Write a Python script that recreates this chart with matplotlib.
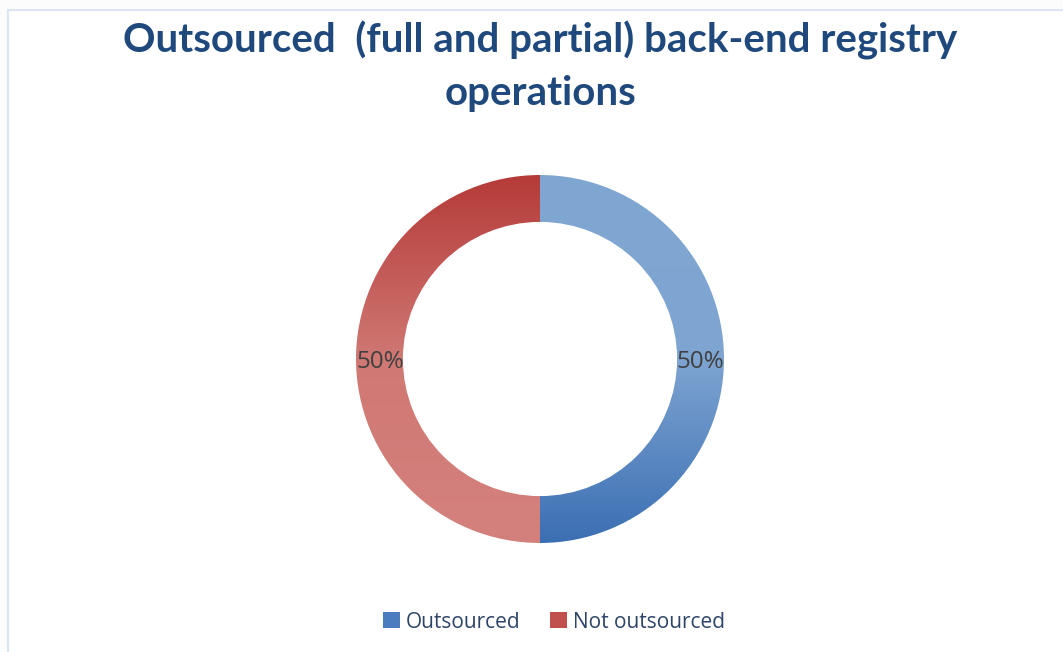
import numpy as np
import matplotlib.pyplot as plt
from matplotlib.colors import LinearSegmentedColormap
from matplotlib.patches import Patch, Rectangle

# data
labels = ["Outsourced", "Not outsourced"]
values = [50, 50]

title = "Outsourced  (full and partial) back-end registry\noperations"

# gradient stops, top -> bottom
blue_stops = ["#80A6D2", "#7EA4D1", "#3B6FB3"]
red_stops = ["#B53B38", "#D07874", "#D4817D"]
legend_colors = ["#4A7CBF", "#C0504D"]

W, H = 1063, 652
fig = plt.figure(figsize=(W / 100, H / 100), dpi=100)
fig.patch.set_facecolor("#FCFCFC")

# faint chart frame, kept behind the axes
fig.patches.append(Rectangle((8 / W, -0.01), (W - 8) / W + 0.01, (H - 10) / H + 0.01,
                             transform=fig.transFigure, facecolor="white",
                             edgecolor="#DCE6F2", linewidth=1.5, zorder=-5))

R = 184
cx, cy = 540, 652 - 359
ax = fig.add_axes([(cx - R) / W, (cy - R) / H, 2 * R / W, 2 * R / H])
ax.patch.set_alpha(0)

wedges, texts, autotexts = ax.pie(
    values, startangle=90, counterclock=False,
    wedgeprops=dict(width=0.255, linewidth=0, facecolor="none"),
    autopct="%1.0f%%", pctdistance=0.87,
    textprops=dict(color="#404040", fontsize=17.5, family="Open Sans"),
)
ax.set_xlim(-1, 1)
ax.set_ylim(-1, 1)
ax.set_aspect("equal")

grad = np.linspace(0, 1, 256).reshape(-1, 1)
for w, stops in zip(wedges, [blue_stops, red_stops]):
    cmap = LinearSegmentedColormap.from_list("g", stops)
    im = ax.imshow(grad, cmap=cmap, extent=[-1, 1, -1, 1], origin="upper",
                   aspect="auto", zorder=1)
    im.set_clip_path(w)
for t in autotexts:
    t.set_zorder(3)
    t.set_va("center_baseline")

fig.text(cx / W, 1 - 66 / H, title, ha="center", va="center",
         fontsize=29, fontweight="bold", color="#1F497D", family="Lato",
         linespacing=1.5)

handles = [Patch(facecolor=c, edgecolor="none") for c in legend_colors]
fig.legend(handles, labels, loc="center", bbox_to_anchor=(554 / W, 1 - 622 / H),
           ncol=2, frameon=False, handlelength=0.8, handleheight=0.8,
           handletextpad=0.3, columnspacing=1.4,
           prop=dict(family="Open Sans", size=15), labelcolor="#2E4468")

fig.savefig("out.png", dpi=100, facecolor=fig.get_facecolor())
